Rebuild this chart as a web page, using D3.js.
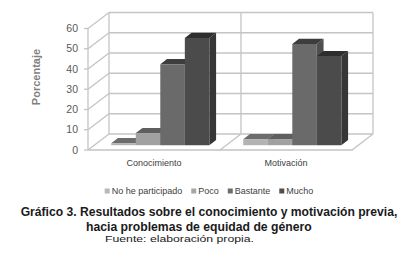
<!DOCTYPE html>
<html>
<head>
<meta charset="utf-8">
<script src="https://cdn.jsdelivr.net/npm/d3@7"></script>
<style>
  body { margin: 0; background: #fff; }
  svg { display: block; font-family: "Liberation Sans", Arial, sans-serif; }
</style>
</head>
<body>
<div id="chart"></div>
<script>
const categories = ["Conocimiento", "Motivación"];
const seriesNames = ["No he participado", "Poco", "Bastante", "Mucho"];
const conocimientoValues = [1, 6, 40, 53];
const motivacionValues = [3, 3, 50, 44];
const yTicks = [0, 10, 20, 30, 40, 50, 60];

const values = [conocimientoValues, motivacionValues];

// face colours per series: front, side, top
const faceColors = {
    "No he participado": ["#b3b3b3", "#8a8a8a", "#6c6c6c"],
    "Poco": ["#a1a1a1", "#7a7a7a", "#5f5f5f"],
    "Bastante": ["#6a6a6a", "#4f4f4f", "#3d3d3d"],
    "Mucho": ["#4b4b4b", "#363636", "#2e2e2e"]
};
const legendColors = ["#b8b8b8", "#a6a6a6", "#6e6e6e", "#4f4f4f"];

const W = 401, H = 260;
const x0 = 88, x1 = 352;
const DX = 21, DY = -16;
const z0 = 0.3, z1 = 0.62;
const gridColor = "#c4c4c4";

const svg = d3.select("#chart").append("svg")
    .attr("width", W)
    .attr("height", H);

const x = d3.scaleBand().domain(categories).range([x0, x1]);
const xSub = d3.scaleBand().domain(seriesNames)
    .range([0, x.bandwidth()])
    .paddingInner(0)
    .paddingOuter(0.69);
const y = d3.scaleLinear().domain([0, 60]).range([150, 28.5]);

const project = (px, v, z) => [px + z * DX, y(v) + z * DY];
const poly = pts => pts.map(p => p.join(",")).join(" ");

const walls = svg.append("g")
    .attr("fill", "none")
    .attr("stroke", gridColor)
    .attr("stroke-width", 1.3);

// back wall gridlines
yTicks.forEach(t => {
    const a = project(x0, t, 1), b = project(x1, t, 1);
    walls.append("line").attr("x1", a[0]).attr("y1", a[1]).attr("x2", b[0]).attr("y2", b[1]);
    // left wall diagonals
    const c = project(x0, t, 0);
    walls.append("line").attr("x1", c[0]).attr("y1", c[1]).attr("x2", a[0]).attr("y2", a[1]);
    // tick marks
    walls.append("line").attr("x1", c[0] - 4).attr("y1", c[1]).attr("x2", c[0]).attr("y2", c[1]);
});

// vertical edges: front-left, back-left, back-right, category divider
[[x0, 0], [x0, 1], [x1, 1], [x0 + x.bandwidth(), 1]].forEach(([px, z]) => {
    const a = project(px, 0, z), b = project(px, 60, z);
    walls.append("line").attr("x1", a[0]).attr("y1", a[1]).attr("x2", b[0]).attr("y2", b[1]);
});

// floor
const floorPts = [project(x0, 0, 0), project(x1, 0, 0), project(x1, 0, 1)];
walls.append("polyline").attr("points", poly(floorPts));
const d0 = project(x0 + x.bandwidth(), 0, 0), d1 = project(x0 + x.bandwidth(), 0, 1);
walls.append("line").attr("x1", d0[0]).attr("y1", d0[1]).attr("x2", d1[0]).attr("y2", d1[1]);

// bars
const bars = svg.append("g");
categories.forEach((cat, ci) => {
    seriesNames.forEach((s, si) => {
        const v = values[ci][si];
        const bx = x(cat) + xSub(s);
        const bw = xSub.bandwidth();
        const [cFront, cSide, cTop] = faceColors[s];
        const g = bars.append("g");
        g.append("polygon")
            .attr("points", poly([project(bx + bw, 0, z0), project(bx + bw, 0, z1),
                project(bx + bw, v, z1), project(bx + bw, v, z0)]))
            .attr("fill", cSide);
        g.append("polygon")
            .attr("points", poly([project(bx, v, z0), project(bx + bw, v, z0),
                project(bx + bw, v, z1), project(bx, v, z1)]))
            .attr("fill", cTop);
        g.append("polygon")
            .attr("points", poly([project(bx, 0, z0), project(bx + bw, 0, z0),
                project(bx + bw, v, z0), project(bx, v, z0)]))
            .attr("fill", cFront);
    });
});

// y tick labels
svg.append("g").selectAll("text")
    .data(yTicks)
    .enter().append("text")
    .attr("x", 78)
    .attr("y", d => y(d))
    .attr("dy", "0.35em")
    .attr("text-anchor", "end")
    .style("font-size", "10.5px")
    .style("fill", "#595959")
    .text(d => d);

// y axis title
svg.append("text")
    .attr("transform", "translate(40,77) rotate(-90)")
    .attr("text-anchor", "middle")
    .style("font-size", "11px")
    .style("font-weight", "bold")
    .style("fill", "#7f7f7f")
    .text("Porcentaje");

// category labels
svg.append("g").selectAll("text")
    .data(categories)
    .enter().append("text")
    .attr("x", d => x(d) + x.bandwidth() / 2)
    .attr("y", 166)
    .attr("text-anchor", "middle")
    .style("font-size", "9px")
    .style("fill", "#404040")
    .text(d => d);

// legend
const legend = svg.append("g");
let lx = 0;
seriesNames.forEach((s, i) => {
    const item = legend.append("g").attr("transform", `translate(${lx},0)`);
    item.append("rect")
        .attr("x", 0).attr("y", -5.5)
        .attr("width", 5).attr("height", 5)
        .attr("fill", legendColors[i]);
    const t = item.append("text")
        .attr("x", 7).attr("y", 0)
        .style("font-size", "9px")
        .style("fill", "#404040")
        .text(s);
    lx += 7 + t.node().getComputedTextLength() + 9;
});
const legendWidth = lx - 9;
legend.attr("transform", `translate(${209 - legendWidth / 2},194)`);

// caption
svg.append("text")
    .attr("x", 20.7).attr("y", 215.5)
    .attr("textLength", 376.6)
    .attr("lengthAdjust", "spacingAndGlyphs")
    .style("font-size", "12px")
    .style("font-weight", "bold")
    .style("fill", "#1a1a1a")
    .text("Gráfico 3. Resultados sobre el conocimiento y motivación previa,");

svg.append("text")
    .attr("x", 86).attr("y", 230.5)
    .attr("textLength", 225.7)
    .attr("lengthAdjust", "spacingAndGlyphs")
    .style("font-size", "12px")
    .style("font-weight", "bold")
    .style("fill", "#1a1a1a")
    .text("hacia problemas de equidad de género");

svg.append("text")
    .attr("x", 105).attr("y", 242)
    .attr("textLength", 149)
    .attr("lengthAdjust", "spacingAndGlyphs")
    .style("font-size", "9.5px")
    .style("fill", "#1a1a1a")
    .text("Fuente: elaboración propia.");
</script>
</body>
</html>
